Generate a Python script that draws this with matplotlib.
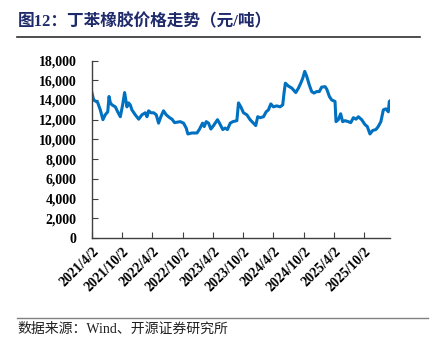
import numpy as np
import pandas as pd
import matplotlib
matplotlib.use("Agg")
import matplotlib.pyplot as plt
from matplotlib.ticker import FuncFormatter

plt.rcParams['font.family'] = ['Liberation Serif', 'Noto Sans CJK SC']

# ── DATA: 丁苯橡胶价格（元/吨）────────────────────────────────────────────────
dates = [
    "2021-04-02", "2021-04-12", "2021-05-06", "2021-05-22", "2021-06-07", "2021-06-21",
    "2021-07-06", "2021-07-14", "2021-07-22", "2021-08-01", "2021-08-21", "2021-09-04",
    "2021-09-20", "2021-10-04", "2021-10-16", "2021-10-30", "2021-11-09", "2021-11-19",
    "2021-11-29", "2021-12-19", "2022-01-09", "2022-01-29", "2022-02-18", "2022-02-28",
    "2022-03-10", "2022-03-24", "2022-04-09", "2022-04-25", "2022-05-09", "2022-05-23",
    "2022-06-08", "2022-06-24", "2022-07-15", "2022-07-29", "2022-08-14", "2022-09-17",
    "2022-10-07", "2022-10-23", "2022-11-02", "2022-11-26", "2022-12-27", "2023-01-10",
    "2023-01-30", "2023-02-09", "2023-02-21", "2023-03-07", "2023-03-21", "2023-04-06",
    "2023-04-30", "2023-05-12", "2023-06-01", "2023-06-15", "2023-06-29", "2023-07-16",
    "2023-08-01", "2023-08-25", "2023-09-04", "2023-09-18", "2023-10-04", "2023-10-24",
    "2023-11-13", "2023-12-03", "2023-12-17", "2023-12-29", "2024-01-13", "2024-02-02",
    "2024-02-18", "2024-03-03", "2024-03-17", "2024-04-02", "2024-04-22", "2024-05-12",
    "2024-05-28", "2024-06-05", "2024-06-13", "2024-07-02", "2024-07-22", "2024-08-15",
    "2024-08-31", "2024-09-14", "2024-09-26", "2024-10-08", "2024-10-20", "2024-11-05",
    "2024-11-19", "2024-12-03", "2024-12-19", "2025-01-04", "2025-01-18", "2025-02-08",
    "2025-02-18", "2025-03-06", "2025-03-20", "2025-04-09", "2025-04-15", "2025-04-29",
    "2025-05-13", "2025-05-25", "2025-06-08", "2025-06-28", "2025-07-13", "2025-07-29",
    "2025-08-14", "2025-08-28", "2025-09-17", "2025-10-07", "2025-10-21", "2025-11-06",
    "2025-11-22", "2025-12-12", "2025-12-26", "2026-01-11", "2026-01-26", "2026-02-11",
    "2026-02-25", "2026-03-03", "2026-03-07",
]
price = [
    14700, 14000, 13750, 13000, 12000, 12500,
    12800, 14350, 13700, 13500, 13300, 12800,
    12300, 13500, 14750, 13300, 13700, 13500,
    13000, 12500, 12050, 12500, 12700, 12300,
    12900, 12700, 12700, 12500, 11650, 12300,
    12900, 12500, 12200, 12050, 11700, 11800,
    11650, 11150, 10550, 10650, 10650, 11000,
    11650, 11300, 11800, 11650, 11050, 11400,
    12000, 11650, 11000, 11150, 11000, 11650,
    11800, 11900, 13700, 13300, 12700, 12500,
    12000, 11650, 11400, 12300, 12200, 12300,
    12800, 13000, 13600, 13300, 13400, 13300,
    13500, 14700, 15700, 15400, 15200, 14750,
    15200, 15700, 16200, 16900, 16400, 15500,
    14850, 14700, 14850, 14850, 15300, 15350,
    15100, 14350, 14000, 13850, 11800, 12000,
    12600, 11800, 11900, 11800, 11700, 12200,
    12050, 12300, 12000, 11500, 11300, 10550,
    10900, 11000, 11300, 11800, 13000, 13100,
    12800, 13850, 13900,
]

tick_dates = ["2021-04-02", "2021-10-02", "2022-04-02", "2022-10-02", "2023-04-02",
              "2023-10-02", "2024-04-02", "2024-10-02", "2025-04-02", "2025-10-02"]
tick_labels = ["2021/4/2", "2021/10/2", "2022/4/2", "2022/10/2", "2023/4/2",
               "2023/10/2", "2024/4/2", "2024/10/2", "2025/4/2", "2025/10/2"]

title_text = "图12：丁苯橡胶价格走势（元/吨）"
source_text = "数据来源：Wind、开源证券研究所"

x = pd.to_datetime(dates)
ticks = pd.to_datetime(tick_dates)

# ── PLOT ──────────────────────────────────────────────────────────────────────
fig = plt.figure(figsize=(4.35, 3.4), dpi=100)
ax = fig.add_axes([0.2115, 0.30, 0.685, 0.522])

ax.plot(x, price, color='#0070C0', linewidth=2.2, solid_joinstyle='round')

ax.set_xlim(x[0], x[-1])
ax.set_ylim(0, 18000)
ax.set_yticks(np.arange(0, 18001, 2000))
ax.yaxis.set_major_formatter(FuncFormatter(lambda v, p: f"{int(v):,}"))
ax.set_xticks(ticks)
ax.set_xticklabels(tick_labels, rotation=45, ha='right', va='top',
                   rotation_mode='anchor')

for s in ('top', 'right'):
    ax.spines[s].set_visible(False)
for s in ('left', 'bottom'):
    ax.spines[s].set_color('#404040')
    ax.spines[s].set_linewidth(1.0)

ax.tick_params(axis='both', direction='in', length=4, width=0.8, color='#404040',
               labelsize=10, labelcolor='black')
ax.tick_params(axis='x', pad=5)
ax.tick_params(axis='y', pad=11)
for lbl in ax.get_xticklabels() + ax.get_yticklabels():
    lbl.set_fontweight('bold')

# title and source rules
fig.text(0.04, 0.935, title_text, fontsize=12, fontweight='bold',
         color='#1F2A6B', va='center', ha='left')
fig.add_artist(plt.Line2D([0.04, 0.965], [0.890, 0.890], color='#303030', linewidth=1.2))
fig.add_artist(plt.Line2D([0.04, 0.985], [0.066, 0.066], color='#808080', linewidth=1.0))
fig.text(0.04, 0.032, source_text, fontsize=10, color='#202020',
         va='center', ha='left')

fig.savefig('out.png', dpi=100)
